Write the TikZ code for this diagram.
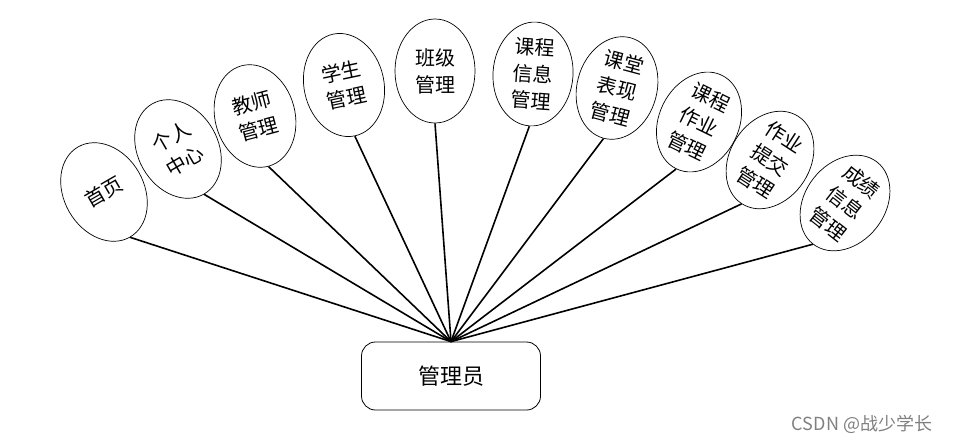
\documentclass[tikz,border=0pt]{standalone}
\usepackage{fontspec}
\newfontfamily\cjk{Noto Sans CJK SC}
\usetikzlibrary{shapes.geometric}
\begin{document}
\begin{tikzpicture}[x=1pt,y=-1pt,
  func/.style={ellipse, draw, line width=0.7pt, minimum width=80pt, minimum height=104pt, inner sep=0pt,
    align=center, font=\cjk\fontsize{20}{27}\selectfont},
  hubbox/.style={rectangle, draw, line width=0.8pt, rounded corners=14pt, minimum width=179pt, minimum height=68pt,
    font=\cjk\fontsize{22}{26}\selectfont},
  link/.style={line width=1.6pt}]
\useasboundingbox (0,0) rectangle (957,439);
\node[hubbox] (hub) at (451,376) {管理员};
\node[func, rotate=30]  (e1)  at (104,192) {首页};
\node[func, rotate=30]  (e2)  at (178,149) {个人\\中心};
\node[func, rotate=15]  (e3)  at (255,116) {教师\\管理};
\node[func, rotate=12]  (e4)  at (344,85)  {学生\\管理};
\node[func, rotate=0]   (e5)  at (435,71)  {班级\\管理};
\node[func, rotate=-4]  (e6)  at (533,74)  {课程\\信息\\管理};
\node[func, rotate=-15] (e7)  at (617,88)  {课堂\\表现\\管理};
\node[func, rotate=-26] (e8)  at (699,122) {课程\\作业\\管理};
\node[func, rotate=-33] (e9)  at (770,160) {作业\\提交\\管理};
\node[func, rotate=-38] (e10) at (845,203) {成绩\\信息\\管理};
\foreach \n in {e1,e2,e3,e4,e5,e6,e7,e8,e9,e10}
  \draw[link] (\n.south) -- (hub.north);
\node[text=gray, font=\cjk\fontsize{18}{20}\selectfont] (wm) at (862,424) {CSDN @战少学长};
\end{tikzpicture}
\end{document}
